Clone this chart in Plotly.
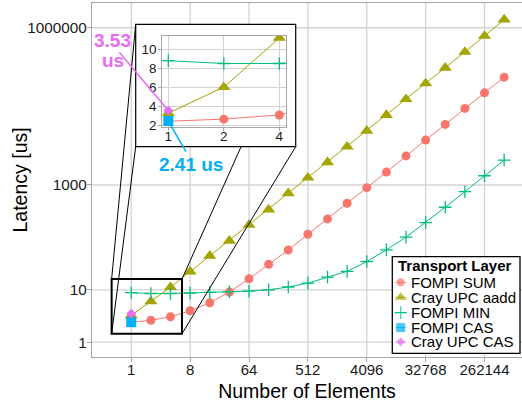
import numpy as np
import plotly.graph_objects as go

# ---------------- data ----------------
elements = [1, 2, 4, 8, 16, 32, 64, 128, 256, 512, 1024, 2048, 4096, 8192,
            16384, 32768, 65536, 131072, 262144, 524288]
fompi_sum = [2.4, 2.62, 3.06, 3.98, 5.65, 9.1, 16.2, 30.6, 57.5, 115, 225, 448,
             889, 1760, 3590, 7190, 14300, 28900, 57300, 114000]
cray_upc_aadd = [3.25, 6.0, 11.2, 22.3, 44.4, 86, 173, 340, 695, 1377, 2706, 5370,
                 10820, 21540, 43450, 86500, 171500, 346000, 698000, 1430000]
fompi_min = [8.8, 8.5, 8.5, 8.7, 8.9, 9.2, 9.4, 10.0, 11.3, 13.4, 17.5, 22.5,
             34.6, 57.8, 101, 191, 376, 745, 1500, 2990]
fompi_cas_x = [1]
fompi_cas = [2.41]
cray_upc_cas_x = [1]
cray_upc_cas = [3.53]

x_tickvals = [1, 8, 64, 512, 4096, 32768, 262144]
x_ticktext = ["1", "8", "64", "512", "4096", "32768", "262144"]
y_tickvals = [1, 10, 1000, 1000000]
y_ticktext = ["1", "10", "1000", "1000000"]
inset_x_tickvals = [1, 2, 4]
inset_x_ticktext = ["1", "2", "4"]
inset_y_tickvals = [2, 4, 6, 8, 10]

series_names = ["FOMPI SUM", "Cray UPC aadd", "FOMPI MIN", "FOMPI CAS", "Cray UPC CAS"]
colors = ["#F8766D", "#A3A500", "#00BF7D", "#00B0F6", "#E76BF3"]
symbols = ["circle", "triangle-up", "cross-thin", "square", "diamond"]
msizes = [9, 11.5, 10, 10, 7.5]

# ---------------- geometry ----------------
W, H = 522, 410
ML, MR, MT, MB = 92, 0, 3, 53
PW, PH = W - ML - MR, H - MT - MB
LOG2 = np.log10(2)
X_RANGE = [-2.0 * LOG2, 19.91 * LOG2]
Y_RANGE = [-0.282, 6.472]
IX_RANGE = [-0.108 * LOG2, 2.12 * LOG2]
IY_RANGE = [1.82, 11.44]


def PX(px):
    return (px - ML) / PW


def PY(py):
    return (H - MB - py) / PH


IN_DOM_X = [PX(162.3), PX(286.0)]
IN_DOM_Y = [PY(126.7), PY(35.7)]
BOX = dict(x0=PX(135.7), x1=PX(295.7), y0=PY(146.7), y1=PY(24.3))


def main_paper(xv, yv):
    return ((np.log10(xv) - X_RANGE[0]) / (X_RANGE[1] - X_RANGE[0]),
            (np.log10(yv) - Y_RANGE[0]) / (Y_RANGE[1] - Y_RANGE[0]))


def inset_paper(xv, yv):
    fx = (np.log10(xv) - IX_RANGE[0]) / (IX_RANGE[1] - IX_RANGE[0])
    fy = (yv - IY_RANGE[0]) / (IY_RANGE[1] - IY_RANGE[0])
    return (IN_DOM_X[0] + fx * (IN_DOM_X[1] - IN_DOM_X[0]),
            IN_DOM_Y[0] + fy * (IN_DOM_Y[1] - IN_DOM_Y[0]))


FONT = "Liberation Sans, Arial, sans-serif"
GRID = "#D3D3D3"
BORDER = "#A6A6A6"

fig = go.Figure()

all_x = [elements, elements, elements, fompi_cas_x, cray_upc_cas_x]
all_y = [fompi_sum, cray_upc_aadd, fompi_min, fompi_cas, cray_upc_cas]

for axes in [("x", "y"), ("x2", "y2")]:
    for i in range(5):
        sym = symbols[i]
        mk = dict(symbol=sym, size=msizes[i], color=colors[i])
        if sym == "cross-thin":
            mk["line"] = dict(color=colors[i], width=1.3)
            mk["size"] = 9
        fig.add_trace(go.Scatter(
            x=all_x[i], y=all_y[i], mode="lines+markers", name=series_names[i],
            line=dict(color=colors[i], width=1), marker=mk,
            xaxis=axes[0], yaxis=axes[1], showlegend=False))

# ---- manual legend (pixel-space helper axes) ----
leg_y = [282.3, 297.4, 312.6, 327.6, 341.9]
for i in range(5):
    mk = dict(symbol=symbols[i], size=[0, msizes[i], 0], color=colors[i])
    if symbols[i] == "cross-thin":
        mk["line"] = dict(color=colors[i], width=1.3)
        mk["size"] = [0, 9, 0]
    fig.add_trace(go.Scatter(
        x=[395, 400.7, 406.5], y=[leg_y[i]] * 3, mode="lines+markers",
        line=dict(color=colors[i], width=1), marker=mk,
        xaxis="x3", yaxis="y3", showlegend=False, hoverinfo="skip"))

shapes = []
# main grid lines
for v in x_tickvals:
    shapes.append(dict(type="line", xref="x", yref="paper", x0=v, x1=v, y0=0, y1=1,
                       line=dict(color=GRID, width=1.3), layer="below"))
for v in y_tickvals:
    shapes.append(dict(type="line", xref="paper", yref="y", x0=0, x1=1, y0=v, y1=v,
                       line=dict(color=GRID, width=1.3), layer="below"))
# zoom rectangle
RX0, RX1, RY0, RY1 = 0.5, 6, 1.45, 16
shapes.append(dict(type="rect", xref="x", yref="y", x0=RX0, x1=RX1, y0=RY0, y1=RY1,
                   line=dict(color="black", width=2), layer="above"))
# connectors, clipped at inset box
corners = [((RX0, RY1), (BOX["x0"], BOX["y1"])),
           ((RX0, RY0), (BOX["x0"], BOX["y0"])),
           ((RX1, RY1), (BOX["x1"], BOX["y1"])),
           ((RX1, RY0), (BOX["x1"], BOX["y0"]))]
for (dx, dy), (bx, by) in corners:
    ax0, ay0 = main_paper(dx, dy)
    ex, ey = bx, by
    if ay0 < BOX["y0"] and by > BOX["y0"]:
        t = (BOX["y0"] - ay0) / (by - ay0)
        cx = ax0 + t * (bx - ax0)
        if BOX["x0"] - 1e-9 <= cx <= BOX["x1"] + 1e-9:
            ex, ey = cx, BOX["y0"]
    shapes.append(dict(type="line", xref="paper", yref="paper", x0=ax0, y0=ay0,
                       x1=ex, y1=ey, line=dict(color="black", width=1), layer="above"))
# inset box
shapes.append(dict(type="rect", xref="paper", yref="paper", **BOX, fillcolor="white",
                   line=dict(color="black", width=1.2), layer="below"))
# legend box
shapes.append(dict(type="rect", xref="paper", yref="paper", x0=PX(392.3), x1=PX(520),
                   y0=PY(353.3), y1=PY(256.7), fillcolor="white",
                   line=dict(color="black", width=1.3), layer="below"))
# annotation pointer lines
px_d, py_d = inset_paper(cray_upc_cas_x[0], cray_upc_cas[0])
shapes.append(dict(type="line", xref="paper", yref="paper", x0=PX(119.3), y0=PY(52.3),
                   x1=px_d, y1=py_d, line=dict(color=colors[4], width=1.5), layer="above"))
px_s, py_s = inset_paper(fompi_cas_x[0], fompi_cas[0])
shapes.append(dict(type="line", xref="paper", yref="paper", x0=px_s, y0=py_s,
                   x1=PX(186), y1=PY(151.7), line=dict(color=colors[3], width=1.5), layer="above"))

annotations = [
    dict(text="<b>3.53</b>", x=PX(112.5), y=PY(40.7), xref="paper", yref="paper",
         showarrow=False, xanchor="center", yanchor="middle",
         font=dict(family=FONT, size=19, color=colors[4])),
    dict(text="<b>us</b>", x=PX(112.5), y=PY(60.2), xref="paper", yref="paper",
         showarrow=False, xanchor="center", yanchor="middle",
         font=dict(family=FONT, size=19, color=colors[4])),
    dict(text="<b>2.41 us</b>", x=PX(191.2), y=PY(164.3), xref="paper", yref="paper",
         showarrow=False, xanchor="center", yanchor="middle",
         font=dict(family=FONT, size=19, color=colors[3])),
    dict(text="<b>Transport Layer</b>", x=PX(396.0), y=PY(265.5), xref="paper", yref="paper",
         showarrow=False, xanchor="left", yanchor="middle",
         font=dict(family=FONT, size=15, color="black")),
    dict(text="Latency [us]", x=PX(19.5), y=PY(180), xref="paper", yref="paper",
         showarrow=False, xanchor="center", yanchor="middle", textangle=-90,
         font=dict(family=FONT, size=19.5, color="black")),
]
for i in range(5):
    annotations.append(dict(text=series_names[i], x=PX(408.6), y=PY(leg_y[i]),
                            xref="paper", yref="paper", showarrow=False,
                            xanchor="left", yanchor="middle",
                            font=dict(family=FONT, size=15, color="black")))

fig.update_layout(
    width=W, height=H,
    margin=dict(l=ML, r=MR, t=MT, b=MB, pad=0),
    paper_bgcolor="white", plot_bgcolor="rgba(0,0,0,0)",
    font=dict(family=FONT, color="black"),
    showlegend=False,
    xaxis=dict(type="log", range=X_RANGE, tickvals=x_tickvals, ticktext=x_ticktext,
               showgrid=False, zeroline=False, showline=True, mirror=True,
               linecolor=BORDER, linewidth=1.2, ticks="outside", ticklen=4,
               tickcolor=BORDER, tickfont=dict(size=15, color="#1A1A1A"),
               ticklabelstandoff=-5,
               title=dict(text="Number of Elements", font=dict(size=19.5), standoff=7)),
    yaxis=dict(type="log", range=Y_RANGE, tickvals=y_tickvals, ticktext=y_ticktext,
               showgrid=False, zeroline=False, showline=True, mirror=True,
               linecolor=BORDER, linewidth=1.2, ticks="outside", ticklen=4,
               tickcolor=BORDER, tickfont=dict(size=15.3, color="#1A1A1A"),
               ticklabelstandoff=-3),
    xaxis2=dict(type="log", range=IX_RANGE, domain=IN_DOM_X, anchor="y2",
                tickvals=inset_x_tickvals, ticktext=inset_x_ticktext,
                showgrid=True, gridcolor=GRID, gridwidth=1.2, zeroline=False,
                showline=True, mirror=True, linecolor=BORDER, linewidth=1,
                ticks="outside", ticklen=3, tickcolor=BORDER,
                ticklabelstandoff=-6,
                tickfont=dict(size=13.5, color="#1A1A1A")),
    yaxis2=dict(range=IY_RANGE, domain=IN_DOM_Y, anchor="x2",
                tickvals=inset_y_tickvals,
                showgrid=True, gridcolor=GRID, gridwidth=1.2, zeroline=False,
                showline=True, mirror=True, linecolor=BORDER, linewidth=1,
                ticks="outside", ticklen=3, tickcolor=BORDER,
                ticklabelstandoff=-1,
                tickfont=dict(size=13.5, color="#1A1A1A")),
    xaxis3=dict(range=[ML, W - MR], domain=[0, 1], anchor="y3", visible=False,
                fixedrange=True),
    yaxis3=dict(range=[H - MB, MT], domain=[0, 1], anchor="x3", visible=False,
                fixedrange=True),
    shapes=shapes,
    annotations=annotations,
)

fig.write_html("out.html", config={"displayModeBar": False},
               post_script="document.body.style.margin='0';")
